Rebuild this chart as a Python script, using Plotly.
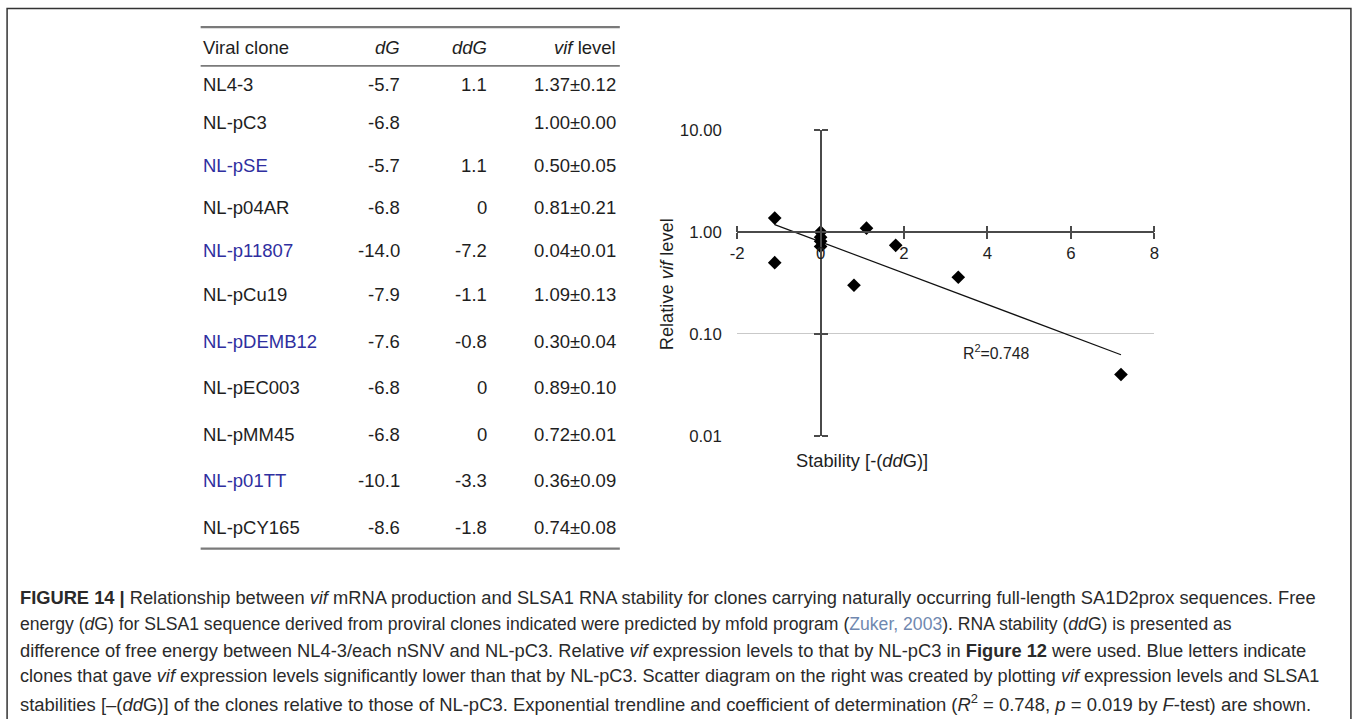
import numpy as np
import plotly.graph_objects as go

# ---------------- data ----------------
clones = ["NL4-3", "NL-pC3", "NL-pSE", "NL-p04AR", "NL-p11807", "NL-pCu19",
          "NL-pDEMB12", "NL-pEC003", "NL-pMM45", "NL-p01TT", "NL-pCY165"]
dG = [-5.7, -6.8, -5.7, -6.8, -14.0, -7.9, -7.6, -6.8, -6.8, -10.1, -8.6]
ddG = [1.1, None, 1.1, 0, -7.2, -1.1, -0.8, 0, 0, -3.3, -1.8]
vif_mean = [1.37, 1.00, 0.50, 0.81, 0.04, 1.09, 0.30, 0.89, 0.72, 0.36, 0.74]
vif_sd = [0.12, 0.00, 0.05, 0.21, 0.01, 0.13, 0.04, 0.10, 0.01, 0.09, 0.08]
significant = [False, False, True, False, True, False, True, False, False, True, False]
header = ["Viral clone", "<i>dG</i>", "<i>ddG</i>", "<i>vif</i> level"]
x_tickvals = [-2, 0, 2, 4, 6, 8]
x_ticktext = ["-2", "0", "2", "4", "6", "8"]
y_tickvals = [0.01, 0.1, 1, 10]
y_ticktext = ["0.01", "0.10", "1.00", "10.00"]
r2_label = "R<sup>2</sup>=0.748"

caption_lines = [
    "<b>FIGURE 14 |</b> Relationship between <i>vif</i> mRNA production and SLSA1 RNA stability for clones carrying naturally occurring full-length SA1D2prox sequences. Free",
    "energy (<i>d</i>G) for SLSA1 sequence derived from proviral clones indicated were predicted by mfold program (<span style='color:#7088b0'>Zuker, 2003</span>). RNA stability (<i>dd</i>G) is presented as",
    "difference of free energy between NL4-3/each nSNV and NL-pC3. Relative <i>vif</i> expression levels to that by NL-pC3 in <b>Figure 12</b> were used. Blue letters indicate",
    "clones that gave <i>vif</i> expression levels significantly lower than that by NL-pC3. Scatter diagram on the right was created by plotting <i>vif</i> expression levels and SLSA1",
    "stabilities [–(<i>dd</i>G)] of the clones relative to those of NL-pC3. Exponential trendline and coefficient of determination (<i>R</i><sup>2</sup> = 0.748, <i>p</i> = 0.019 by <i>F</i>-test) are shown.",
]
caption_sizes = [18.3, 17.6, 18.3, 18.1, 18.45]

# ---------------- layout helpers ----------------
# The page is shot with the 8px body margin and scaled to the window, so
# convert wanted screen pixels into figure paper coordinates.
W, H = 1357, 719
OFF = 8
SX, SY = W / (W + 2 * OFF), H / (H + 2 * OFF)
def px(x):
    return (x / SX - OFF) / W
def py(y):
    return 1 - (y / SY - OFF) / H

FONT = "Liberation Sans, Arial, sans-serif"
TXT = "#1e1e1e"
BLUE = "#2f2fa0"

stability = [-(d if d is not None else 0.0) + 0.0 for d in ddG]

# exponential trendline (least squares on log scale)
b, lna = np.polyfit(stability, np.log(vif_mean), 1)
xs = np.linspace(min(stability), max(stability), 60)
ys = np.exp(lna + b * xs)

x_dom = [px(736), px(1152)]
y_dom = [py(436.7), py(129.5)]
pos_y1 = y_dom[0] + (2 / 3) * (y_dom[1] - y_dom[0])      # where y = 1 sits
pos_x0 = x_dom[0] + 0.2 * (x_dom[1] - x_dom[0])          # where x = 0 sits

fig = go.Figure()
fig.add_trace(go.Scatter(x=xs, y=ys, mode="lines", line=dict(color="#111", width=1.2),
                         xaxis="x", yaxis="y", showlegend=False, hoverinfo="skip"))
fig.add_trace(go.Scatter(x=stability, y=vif_mean, mode="markers",
                         marker=dict(symbol="diamond", size=10.5, color="#000"),
                         xaxis="x", yaxis="y", showlegend=False, text=clones))
# dummy traces so overlay axes (crossing tick marks) get drawn
fig.add_trace(go.Scatter(x=[None], y=[None], xaxis="x2", yaxis="y", showlegend=False))
fig.add_trace(go.Scatter(x=[None], y=[None], xaxis="x", yaxis="y2", showlegend=False))
fig.add_trace(go.Scatter(x=[None], y=[None], xaxis="x", yaxis="y3", showlegend=False))

AX = "#4a4a4a"
tickfont = dict(family=FONT, size=16.8, color=TXT)
fig.update_layout(
    width=W, height=H, margin=dict(l=0, r=0, t=0, b=0),
    paper_bgcolor="white", plot_bgcolor="rgba(0,0,0,0)",
    xaxis=dict(domain=x_dom, range=[-2, 8], anchor="free", position=pos_y1, side="bottom",
               showline=True, linecolor=AX, linewidth=2, ticks="outside", ticklen=6,
               tickwidth=2, tickcolor=AX, tickvals=x_tickvals, ticktext=x_ticktext,
               tickfont=tickfont, showgrid=False, zeroline=False),
    xaxis2=dict(domain=x_dom, range=[-2, 8], overlaying="x", anchor="free", position=pos_y1,
                side="top", showline=False, ticks="outside", ticklen=6, tickwidth=2,
                tickcolor=AX, tickvals=x_tickvals, showticklabels=False, showgrid=False,
                zeroline=False),
    yaxis=dict(domain=y_dom, type="log", range=[-2, 1], anchor="x", side="left",
               showline=False, ticks="outside", ticklen=11, tickcolor="rgba(0,0,0,0)",
               tickvals=y_tickvals, ticktext=y_ticktext, tickfont=tickfont,
               showgrid=True, gridcolor="#c9c9c9", gridwidth=1, zeroline=False),
    yaxis2=dict(domain=y_dom, type="log", range=[-2, 1], overlaying="y", anchor="free",
                position=pos_x0, side="left", showline=True, linecolor=AX, linewidth=2,
                ticks="outside", ticklen=6, tickwidth=2, tickcolor=AX,
                tickvals=y_tickvals, showticklabels=False, showgrid=False, zeroline=False),
    yaxis3=dict(domain=y_dom, type="log", range=[-2, 1], overlaying="y", anchor="free",
                position=pos_x0, side="right", showline=False, ticks="outside", ticklen=6,
                tickwidth=2, tickcolor=AX, tickvals=y_tickvals, showticklabels=False,
                showgrid=False, zeroline=False),
)

ann = []
# axis titles and R2
ann.append(dict(x=px(928), y=py(461), xref="paper", yref="paper", showarrow=False,
                text="Stability [-(<i>dd</i>G)]", font=dict(family=FONT, size=18.3, color=TXT)))
ann.append(dict(x=px(665.5), y=py(284), xref="paper", yref="paper", showarrow=False,
                textangle=-90, text="Relative <i>vif</i> level",
                font=dict(family=FONT, size=18.3, color=TXT)))
ann.append(dict(x=px(1030), y=py(352), xref="paper", yref="paper", showarrow=False,
                text=r2_label, font=dict(family=FONT, size=15.8, color=TXT)))

# table
col_x = [201, 402, 489, 617]
col_anchor = ["left", "right", "right", "right"]
header_y = 47
row_y = [84, 122, 165, 207, 250, 295, 342, 388, 435, 482, 529]
tfont = 18.5
for j, h in enumerate(header):
    ann.append(dict(x=px(col_x[j]), y=py(header_y), xref="paper", yref="paper",
                    showarrow=False, xanchor=col_anchor[j], yanchor="middle", text=h,
                    font=dict(family=FONT, size=tfont, color=TXT)))
for i, name in enumerate(clones):
    dd = "" if ddG[i] is None else f"{ddG[i]:g}"
    cells = [name, f"{dG[i]:.1f}", dd, f"{vif_mean[i]:.2f}±{vif_sd[i]:.2f}"]
    for j, c in enumerate(cells):
        if c == "":
            continue
        col = BLUE if (j == 0 and significant[i]) else TXT
        ann.append(dict(x=px(col_x[j]), y=py(row_y[i]), xref="paper", yref="paper",
                        showarrow=False, xanchor=col_anchor[j], yanchor="middle", text=c,
                        font=dict(family=FONT, size=tfont, color=col)))

# caption
cap_y0, cap_dy = 599.5, 26.3
for k, line in enumerate(caption_lines):
    ann.append(dict(x=px(19), y=py(cap_y0 + k * cap_dy), xref="paper", yref="paper",
                    showarrow=False, xanchor="left", yanchor="middle", text=line,
                    font=dict(family=FONT, size=caption_sizes[k], color="#2a2a2a")))
fig.update_layout(annotations=ann)

shapes = []
# table rules
for yy, wdt in [(26, 2.2), (65, 1.6), (550, 2.2)]:
    shapes.append(dict(type="line", xref="paper", yref="paper", x0=px(201), x1=px(619),
                       y0=py(yy), y1=py(yy), line=dict(color="#7a7a7a", width=wdt)))
# frame (the right edge is kept inside the drawable area)
shapes.append(dict(type="rect", xref="paper", yref="paper", x0=px(8), x1=0.9992,
                   y0=-0.05, y1=py(7.2), line=dict(color="#333", width=1.5)))
fig.update_layout(shapes=shapes)

fig.write_html("out.html")
